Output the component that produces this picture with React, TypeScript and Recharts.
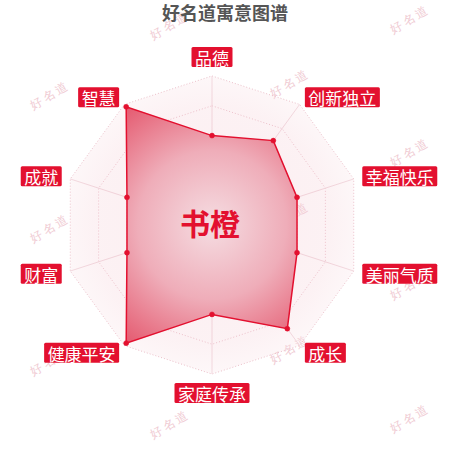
import React from "react";
import { RadarChart, Radar, PolarGrid, PolarAngleAxis, PolarRadiusAxis } from "recharts";

const categories = ["品德", "创新独立", "幸福快乐", "美丽气质", "成长", "家庭传承", "健康平安", "财富", "成就", "智慧"];
const scores = [60, 70, 60, 60, 86, 60, 98, 60, 60, 98];
const fullScale = [100, 100, 100, 100, 100, 100, 100, 100, 100, 100];
const title = "好名道寓意图谱";
const personName = "书橙";
const watermarkText = "好名道";
const wmColumns = [50, 170, 290, 410];
const wmOffsets = [95, 25, 83, 19];

const data = categories.map((c, i) => ({ name: c, score: scores[i], full: fullScale[i] }));

const CX = 212;
const CY = 225;
const R = 149;
const RED = "#e3102f";
const FONT = "'Noto Sans CJK SC', 'Noto Sans', sans-serif";

const LabelTick = (props: any) => {
  const { x, y, payload } = props;
  const text: string = payload.value;
  const ang = (payload.coordinate * Math.PI) / 180;
  const c = Math.cos(ang);
  const s = Math.sin(ang);
  const fs = 17;
  const w = text.length * fs + 7;
  const h = 20;
  let left = x - w / 2;
  if (c > 0.01) left = x;
  else if (c < -0.01) left = x - w;
  let top = y - h / 2;
  if (Math.abs(c) <= 0.01) top = s > 0 ? y - h : y;
  return (
    <g>
      <rect x={left} y={top} width={w} height={h} fill={RED} rx={1.5} />
      <text
        x={left + w / 2}
        y={top + h / 2 + 0.5}
        textAnchor="middle"
        dominantBaseline="central"
        fill="#ffffff"
        fontSize={fs}
        fontFamily={FONT}
      >
        {text}
      </text>
    </g>
  );
};

export default function App() {
  const marks: { x: number; y: number }[] = [];
  wmColumns.forEach((x, i) => {
    for (let k = 0; k < 4; k++) {
      const y = wmOffsets[i] + k * 133;
      if (y < 450) marks.push({ x, y });
    }
  });
  return (
    <div style={{ position: "absolute", left: 0, top: 0, width: 450, height: 450, background: "#fff" }}>
      <svg width={450} height={450} style={{ position: "absolute", left: 0, top: 0 }}>
        <defs>
          <radialGradient id="bgGrad" gradientUnits="userSpaceOnUse" cx={CX} cy={CY} r={R}>
            <stop offset="0%" stopColor="#f3c3cd" />
            <stop offset="80%" stopColor="#f6d3da" />
            <stop offset="100%" stopColor="#fae6ea" />
          </radialGradient>
          <radialGradient id="areaGrad" gradientUnits="userSpaceOnUse" cx={CX} cy={CY} r={R}>
            <stop offset="0%" stopColor="#f5dde2" />
            <stop offset="50%" stopColor="#efadb9" />
            <stop offset="100%" stopColor="#e4566c" />
          </radialGradient>
        </defs>
        {marks.map((m, i) => (
          <text
            key={i}
            x={m.x}
            y={m.y}
            textAnchor="middle"
            dominantBaseline="central"
            fontSize={12}
            fill="#f0cbd3"
            fontFamily="'DejaVu Serif', serif"
            transform={`rotate(-30 ${m.x} ${m.y})`}
            letterSpacing={3}
          >
            {watermarkText}
          </text>
        ))}
      </svg>
      <div style={{ position: "absolute", left: 0, top: 0 }}>
        <RadarChart width={450} height={450} data={data} cx={CX} cy={CY} outerRadius={R} margin={{ top: 0, right: 0, bottom: 0, left: 0 }}>
          <PolarGrid gridType="polygon" stroke="#e9b9c4" strokeDasharray="1 2" radialLines={false} />
          <PolarGrid gridType="polygon" stroke="#efd3da" polarRadius={[0.1]} />
          <PolarRadiusAxis domain={[0, 100]} tickCount={6} tick={false} axisLine={false} />
          <PolarAngleAxis dataKey="name" tick={<LabelTick />} tickSize={9} tickLine={false} axisLine={false} />
          <Radar dataKey="full" stroke="none" fill="url(#bgGrad)" fillOpacity={0.3} isAnimationActive={false} />
          <Radar
            dataKey="score"
            stroke={RED}
            strokeWidth={1.5}
            fill="url(#areaGrad)"
            fillOpacity={1}
            dot={{ r: 2.5, fill: RED, stroke: RED, strokeWidth: 0.5 }}
            isAnimationActive={false}
          />
        </RadarChart>
      </div>
      <svg width={450} height={450} style={{ position: "absolute", left: 0, top: 0, pointerEvents: "none" }}>
        <text x={225} y={12} textAnchor="middle" dominantBaseline="central" fontSize={18} fontWeight="bold" fill="#555555" fontFamily={FONT}>
          {title}
        </text>
        <text x={210} y={222} textAnchor="middle" dominantBaseline="central" fontSize={30} fontWeight="bold" fill={RED} fontFamily={FONT}>
          {personName}
        </text>
      </svg>
    </div>
  );
}
